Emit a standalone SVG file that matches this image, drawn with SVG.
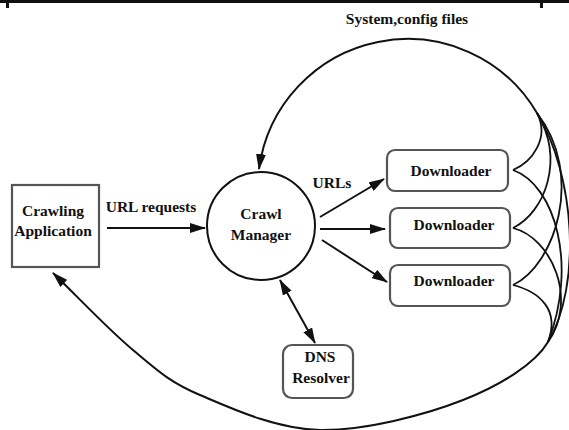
<svg xmlns="http://www.w3.org/2000/svg" width="569" height="430" viewBox="0 0 569 430">
<style>
text{font-family:"Liberation Serif","Times New Roman",serif;font-weight:bold;font-size:15.5px;fill:#111;text-anchor:middle}
.box{fill:#fff;stroke:#555;stroke-width:2.2}
.ln{fill:none;stroke:#111;stroke-width:2}
.cv{fill:none;stroke:#111;stroke-width:1.8}
</style>
<defs>
<marker id="ah" markerUnits="userSpaceOnUse" markerWidth="16" markerHeight="10" refX="15" refY="5" orient="auto">
<path d="M0,0 L16,5 L0,10 Z" fill="#111"/>
</marker>
<marker id="as" markerUnits="userSpaceOnUse" markerWidth="16" markerHeight="10" refX="1" refY="5" orient="auto">
<path d="M16,0 L0,5 L16,10 Z" fill="#111"/>
</marker>
</defs>
<rect x="0" y="0" width="569" height="3" fill="#111"/>
<rect x="6" y="0" width="3" height="8" fill="#111"/>
<rect x="540" y="0" width="3" height="8" fill="#111"/>

<text x="407" y="24">System,config files</text>

<g id="connectors">
<line class="ln" x1="107" y1="228" x2="205" y2="228" marker-end="url(#ah)"/>
<line class="ln" x1="320" y1="217" x2="384" y2="179" marker-end="url(#ah)"/>
<line class="ln" x1="320" y1="229" x2="385" y2="229" marker-end="url(#ah)"/>
<line class="ln" x1="322" y1="240" x2="387" y2="282" marker-end="url(#ah)"/>
<line class="ln" x1="280" y1="280" x2="315" y2="343" marker-start="url(#as)" marker-end="url(#ah)"/>
<path class="ln" d="M537,113 A150,150 0 0 0 259,169" marker-end="url(#ah)"/>
<path class="ln" d="M548,342 C535,364 500.8,385 463,400 C425.2,415 363.8,430.8 320,430 C276.2,429.2 231.2,408.3 200,395 C168.8,381.7 157.5,370.3 133,350 C108.5,329.7 79.7,298.7 53,273" marker-end="url(#ah)"/>
<path class="cv" d="M537,113 C575,175 582,285 548,342"/>
<path class="cv" d="M513,170 C532,162 550,138 537,113"/>
<path class="cv" d="M513,228 C545,212 565,160 537,113"/>
<path class="cv" d="M513,285 C555,265 585,175 537,113"/>
<path class="cv" d="M513,170 C555,185 578,265 548,342"/>
<path class="cv" d="M513,228 C552,238 578,300 548,342"/>
<path class="cv" d="M513,285 C540,292 560,310 548,342"/>
</g>

<g id="crawling-application">
<rect class="box" x="12" y="185" width="87" height="82"/>
<text x="53" y="216">Crawling</text>
<text x="53" y="236">Application</text>
</g>
<text x="151" y="212">URL requests</text>

<g id="crawl-manager">
<circle cx="261" cy="226" r="54" fill="#fff" stroke="#111" stroke-width="2"/>
<text x="261" y="219">Crawl</text>
<text x="261" y="240">Manager</text>
</g>
<text x="332" y="188">URLs</text>

<g id="downloader-1">
<rect class="box" x="387" y="150" width="121" height="41" rx="8"/>
<text x="451" y="176">Downloader</text>
</g>
<g id="downloader-2">
<rect class="box" x="390" y="208" width="120" height="40" rx="8"/>
<text x="454" y="230">Downloader</text>
</g>
<g id="downloader-3">
<rect class="box" x="390" y="265" width="120" height="41" rx="8"/>
<text x="454" y="286">Downloader</text>
</g>

<g id="dns-resolver">
<rect class="box" x="283" y="345" width="70" height="53" rx="9"/>
<text x="320" y="362">DNS</text>
<text x="321" y="383">Resolver</text>
</g>
</svg>
